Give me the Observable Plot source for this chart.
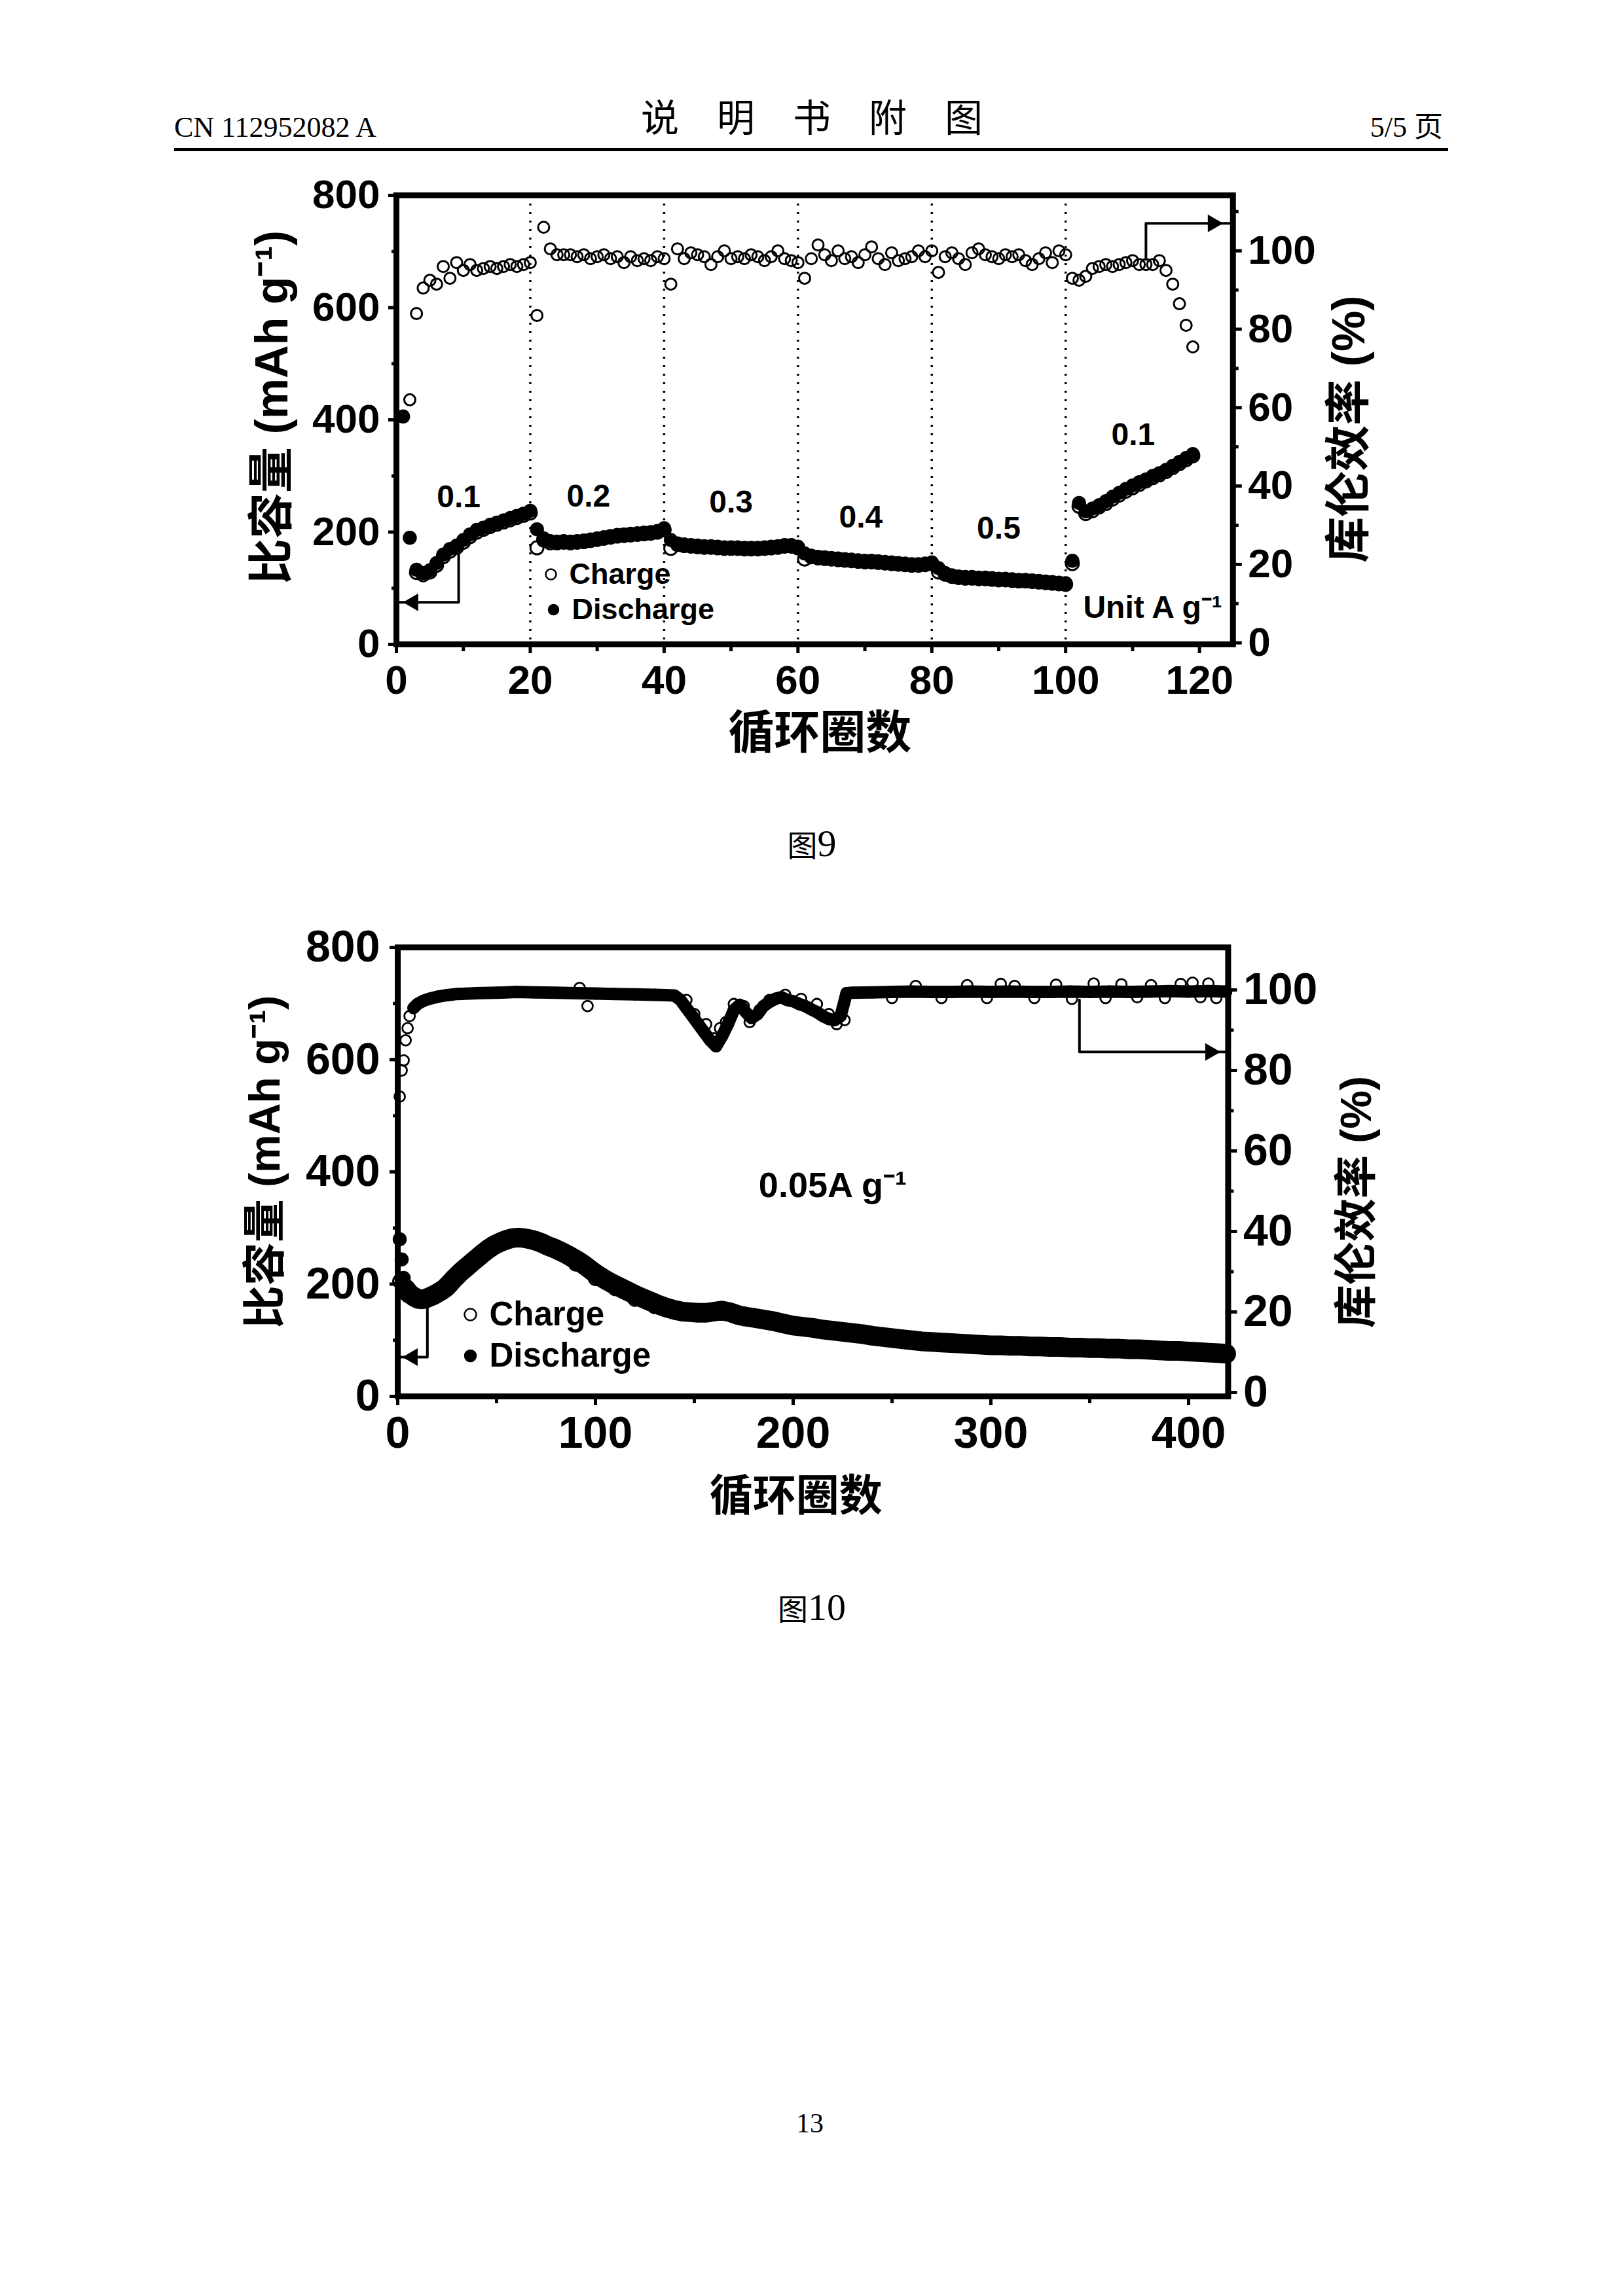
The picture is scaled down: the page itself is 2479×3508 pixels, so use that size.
<!DOCTYPE html>
<html>
<head>
<meta charset="utf-8">
<script src="https://cdn.jsdelivr.net/npm/d3@7"></script>
<script src="https://cdn.jsdelivr.net/npm/@observablehq/plot@0.6"></script>
<style>
html, body { margin: 0; padding: 0; background: #fff; }
#page { position: relative; width: 2479px; height: 3508px; background: #fff; overflow: hidden; }
#furniture { position: absolute; left: 0; top: 0; }
.chart { position: absolute; }
</style>
</head>
<body>
<div id="page">
<svg id="furniture" width="2479" height="3508" xmlns="http://www.w3.org/2000/svg">
  <text x="266" y="209" font-family="'Liberation Serif', serif" font-size="44">CN 112952082 A</text>
  <text x="979" y="201" font-family="'Noto Sans CJK SC', sans-serif" font-size="58" letter-spacing="58">说明书附图</text>
  <text x="2204" y="209" text-anchor="end" font-family="'Liberation Serif', 'Noto Sans CJK SC', serif" font-size="44">5/5 页</text>
  <rect x="266" y="226" width="1946" height="5" fill="#000"></rect>
  <text x="1240" y="1308" text-anchor="middle" font-family="'Noto Sans CJK SC', sans-serif" font-size="46">图<tspan font-family="'Liberation Serif', serif" font-size="58">9</tspan></text>
  <text x="1240" y="2475" text-anchor="middle" font-family="'Noto Sans CJK SC', sans-serif" font-size="46">图<tspan font-family="'Liberation Serif', serif" font-size="58">10</tspan></text>
  <text x="1237" y="3258" text-anchor="middle" font-family="'Liberation Serif', serif" font-size="42">13</text>
</svg>
<div id="chart1" class="chart" style="left:300px; top:240px; width:1900px; height:960px;"></div>
<div id="chart2" class="chart" style="left:300px; top:1350px; width:1900px; height:1000px;"></div>
</div>
<script>
// ================= DATA : 图9 (rate performance) =================
const xTicks1 = [0, 20, 40, 60, 80, 100, 120];
const xMinor1 = [10, 30, 50, 70, 90, 110];
const capTicks = [0, 200, 400, 600, 800];
const capMinor = [100, 300, 500, 700];
const ceTicks = [0, 20, 40, 60, 80, 100];
const ceMinor1 = [10, 30, 50, 70, 90, 110];
const ceMinor2 = [10, 30, 50, 70, 90];
const rateBoundaries1 = [20, 40, 60, 80, 100];
const rateLabels1 = ["0.1", "0.2", "0.3", "0.4", "0.5", "0.1"];
const rateLabelCycle1 = [9.3, 28.7, 50, 69.4, 90, 110.1];
const rateLabelCap1 = [262, 263, 253, 226, 206, 373];
const unitLabel1 = ["Unit A g⁻¹"];
const unitLabelCycle1 = [113];
const unitLabelCap1 = [65];

// discharge capacity, cycles 1..119 (mAh g-1)
const discharge1 = [406,190,133,127,132,145,160,170,176,186,
  196,204,208,213,217,221,225,229,233,238,
  205,189,184,183,184,183,184,185,187,189,
  191,193,195,196,197,198,199,200,202,207,
  186,180,178,177,176,175,175,174,173,173,
  173,172,172,172,173,174,175,177,177,174,
  162,158,156,155,154,153,152,151,150,149,
  149,148,147,146,145,144,143,143,144,146,
  136,127,123,121,120,120,119,119,118,117,
  117,116,115,115,114,113,112,111,110,109,
  149,252,237,242,248,255,263,270,277,283,
  289,294,300,305,311,318,325,332,339];
// charge capacity, cycles 3..119
const charge1 = [128,124,129,141,156,166,173,182,
  192,200,205,210,214,218,222,226,230,234,
  172,186,181,181,182,181,182,183,185,187,
  189,191,193,194,195,196,197,198,200,204,
  171,178,176,175,174,173,173,172,171,171,
  171,170,170,170,171,172,173,175,175,172,
  152,156,154,153,152,151,150,149,148,147,
  147,146,145,144,143,142,141,141,142,144,
  129,125,121,119,118,118,117,117,116,115,
  115,114,113,113,112,111,110,109,108,107,
  144,246,233,238,245,251,259,266,273,279,
  285,291,297,302,308,315,322,329,336];
// coulombic efficiency, cycles 2..119 (%)
const ce1 = [62,84,90.5,92.5,91.5,96,93,97,95,
  96.5,95,95.5,96,95.5,96,96.5,96,96.5,97,
  83.5,106,100.5,99,99,99,98.5,99,98,98.5,
  99,98,98.5,97,98.5,97.5,98,97.5,98.5,98,
  91.5,100.5,98,99.5,99,98.5,96.5,98.5,100,98,
  98.5,98,99,98.5,97.5,98.5,100,98,97.5,97,
  93,98,101.5,99,97.5,100,98,98.5,97,99,
  101,98,96.5,99.5,97.5,98,98.5,100,98.5,100,
  94.5,98.5,99.5,98,96.5,99.5,100.5,99,98.5,98,
  99,98.5,99,97.5,96.5,98,99.5,97,100,99,
  93,92.5,93.5,95.5,96,96.5,96,96.5,97,97.5,
  96.5,96.5,96.5,97.5,95,91.5,86.5,81,75.5];
const capArrowCycle1 = [9.3, 9.3, 0.4];
const capArrowCap1 = [161, 75, 75];
const capArrowHead1 = [2.5];
const ceArrowCycle1 = [112, 112, 124.6];
const ceArrowCE1 = [97.8, 107, 107];
const ceArrowHead1 = [122];

// ================= DATA : 图10 (long cycling at 0.05 A g-1) =================
const xTicks2 = [0, 100, 200, 300, 400];
const xMinor2 = [50, 150, 250, 350];
const cycles2 = [1,2,3,4,6,8,10,12,14,16,18,20,22,24,26,28,30,32,34,36,38,40,43,46,49,52,55,58,61,64,67,70,73,76,79,82,85,88,91,94,97,100,104,108,112,116,120,124,128,132,136,140,144,148,152,156,160,164,168,172,176,180,185,190,195,200,205,210,215,220,225,230,235,240,245,250,255,260,265,270,275,280,285,290,295,300,305,310,315,320,325,330,335,340,345,350,355,360,365,370,375,380,385,390,395,400,405,410,415,419];
const discharge2 = [280,244,211,192,183,178,174,173,174,177,180,184,188,193,200,208,215,222,228,234,240,246,255,263,270,275,279,282,283,282,280,277,273,268,264,259,254,248,242,235,227,219,210,202,195,188,181,175,169,163,158,154,151,150,149,149,151,153,150,145,142,140,137,134,130,126,124,122,119,117,115,113,111,108,106,104,102,100,98,97,96,95,94,93,92,91,91,90,90,89,89,88,88,87,87,86,86,85,85,84,84,83,82,81,81,80,79,78,77,76];
const chargeCycles2 = [1,2,3,5,10,20,30,40,50,60,70,80,90,100,110,120,130,140,150,160,170,180,190,200,210,220,230,240,250,260,270,280,290,300,310,320,330,340,350,360,370,380,390,400,410,419];
const charge2 = [205,200,190,180,170,180,211,243,268,279,274,259,236,210,192,173,160,150,146,150,144,137,131,123,119,114,110,105,101,97,94,92,90,88,87,86,85,84,83,82,81,80,78,77,75,74];
const ceCycles2 = [1,2,3,4,5,6,8,10,13,16,20,25,30,40,50,60,70,80,90,100,110,120,130,140,143,146,149,152,155,158,161,164,167,170,173,176,179,182,185,188,191,194,197,200,203,206,209,212,215,218,221,224,227,230,240,250,260,270,280,290,300,310,320,330,340,350,360,370,380,390,400,410,419];
const ce2 = [73.5,80,82.5,87.5,90.5,93.5,95.5,96.5,97.3,97.8,98.3,98.7,99.0,99.2,99.3,99.5,99.4,99.3,99.2,99.1,99.0,98.9,98.8,98.6,97.5,95.5,93.5,91.5,89.5,87.5,86,88.5,91.5,95,96.3,94.5,93,94,96,97,97.8,98.2,97.5,97.2,96.5,96,95.2,94.5,93.5,92.8,92.5,93.5,99.2,99.3,99.4,99.5,99.6,99.5,99.5,99.6,99.5,99.6,99.5,99.5,99.6,99.5,99.6,99.5,99.6,99.7,99.6,99.7,99.6];
const ceScatterCycles2 = [92,96,146,150,156,160,163,166,170,175,178,183,188,196,204,212,218,222,226,250,262,275,288,298,305,312,322,333,341,352,358,366,374,381,388,396,402,406,410,414];
const ceScatter2 = [100.5,96.0,97.5,94,91.5,88,90.5,92,96.5,96,92,95,97.5,98.8,97.8,96.5,94,91.5,92.5,98,101,98,101.2,98,101.5,101,98,101.3,97.8,101.6,98,101.4,98.2,101.2,98,101.5,101.8,98.2,101.6,98];
const rateLabel2 = ["0.05A g⁻¹"];
const rateLabelCycle2 = [220];
const rateLabelCap2 = [375];
const capArrowCycle2 = [15, 15, 0.8];
const capArrowCap2 = [163, 70, 70];
const capArrowHead2 = [7.5];
const ceArrowCycle2 = [344.8, 344.8, 419.6];
const ceArrowCE2 = [97.5, 84.6, 84.6];
const ceArrowHead2 = [411];

// ================= RENDER =================
const FONT = "'Liberation Sans', Arial, 'Noto Sans CJK SC', sans-serif";
const K = "#000";

// right-axis (%) mapped onto the capacity scale
const ce1ToCap = v => 2.7 + v * 6.985;
const cap1ToCe = y => (y - 2.7) / 6.985;
const ce2ToCap = v => 7 + v * 7.172;
const cap2ToCe = y => (y - 7) / 7.172;

function legendMarks(o) {
  return [
    Plot.dot([0], {frameAnchor: "bottom-left", dx: o.sx, dy: o.y1, r: o.r, stroke: K, strokeWidth: 2.5, fill: "none"}),
    Plot.text(["Charge"], {text: d => d, frameAnchor: "bottom-left", dx: o.tx, dy: o.y1, textAnchor: "start", lineAnchor: "middle", fontSize: o.fs, fontWeight: "bold", fill: K}),
    Plot.dot([0], {frameAnchor: "bottom-left", dx: o.sx2, dy: o.y2, r: o.r, fill: K, stroke: K}),
    Plot.text(["Discharge"], {text: d => d, frameAnchor: "bottom-left", dx: o.tx2, dy: o.y2, textAnchor: "start", lineAnchor: "middle", fontSize: o.fs, fontWeight: "bold", fill: K})
  ];
}

function titleMarks(o) {
  return [
    Plot.text(["循环圈数"], {text: d => d, frameAnchor: "bottom", dx: o.xdx, dy: o.xdy, textAnchor: "middle", lineAnchor: "middle", fontSize: o.fs, fontWeight: "bold", fill: K}),
    Plot.text(["比容量 (mAh g⁻¹)"], {text: d => d, frameAnchor: "left", dx: o.ldx, dy: o.ldy, rotate: -90, textAnchor: "middle", lineAnchor: "middle", fontSize: o.fs, fontWeight: "bold", fill: K}),
    Plot.text(["库伦效率 (%)"], {text: d => d, frameAnchor: "right", dx: o.rdx, dy: o.rdy, rotate: -90, textAnchor: "middle", lineAnchor: "middle", fontSize: o.fs, fontWeight: "bold", fill: K})
  ];
}

// ---------- chart 1 ----------
const dis1 = discharge1.map((v, i) => ({cycle: i + 1, v}));
const chg1 = charge1.map((v, i) => ({cycle: i + 3, v}));
const ceRows1 = ce1.map((v, i) => ({cycle: i + 2, v: ce1ToCap(v)}));
const rateRows1 = rateLabels1.map((t, i) => ({t, cycle: rateLabelCycle1[i], v: rateLabelCap1[i]}));
const unitRows1 = unitLabel1.map((t, i) => ({t, cycle: unitLabelCycle1[i], v: unitLabelCap1[i]}));
const capArrow1 = capArrowCycle1.map((c, i) => ({cycle: c, v: capArrowCap1[i]}));
const ceArrow1 = ceArrowCycle1.map((c, i) => ({cycle: c, v: ce1ToCap(ceArrowCE1[i])}));

const chart1 = Plot.plot({
  width: 1900, height: 960,
  marginLeft: 305, marginRight: 317.25, marginTop: 58, marginBottom: 216,
  x: {domain: [0, 125]},
  y: {domain: [0, 800]},
  style: {background: "transparent", fontFamily: FONT, overflow: "visible", color: K},
  marks: [
    Plot.ruleX(rateBoundaries1, {stroke: K, strokeWidth: 3.5, strokeDasharray: "3,10"}),
    Plot.dot(ceRows1, {x: "cycle", y: "v", r: 8.5, stroke: K, strokeWidth: 3, fill: "none"}),
    Plot.dot(chg1, {x: "cycle", y: "v", r: 10, stroke: K, strokeWidth: 3, fill: "none"}),
    Plot.dot(dis1, {x: "cycle", y: "v", r: 10, fill: K, stroke: K}),
    Plot.line(capArrow1, {x: "cycle", y: "v", stroke: K, strokeWidth: 4}),
    Plot.dot(capArrowHead1, {x: d => d, y: () => capArrowCap1[2], symbol: "triangle", r: 10, rotate: -90, fill: K}),
    Plot.line(ceArrow1, {x: "cycle", y: "v", stroke: K, strokeWidth: 4}),
    Plot.dot(ceArrowHead1, {x: d => d, y: () => ce1ToCap(ceArrowCE1[2]), symbol: "triangle", r: 10, rotate: 90, fill: K}),
    Plot.text(rateRows1, {x: "cycle", y: "v", text: "t", fontSize: 48, fontWeight: "bold", fill: K}),
    Plot.text(unitRows1, {x: "cycle", y: "v", text: "t", fontSize: 48, fontWeight: "bold", fill: K}),
    ...legendMarks({sx: 236, sx2: 240, tx: 264, tx2: 268, y1: -107, y2: -53, r: 8, fs: 45}),
    ...titleMarks({fs: 70, xdx: 8, xdy: 137, ldx: -189, ldy: -19, rdx: 178, rdy: 14}),
    Plot.frame({stroke: K, strokeWidth: 9}),
    Plot.axisX(xTicks1, {anchor: "bottom", tickSize: 14, tickPadding: 17, fontSize: 62, fontWeight: "bold", strokeWidth: 5, label: null}),
    Plot.axisX(xMinor1, {anchor: "bottom", tickSize: 11, tickFormat: () => "", strokeWidth: 5, label: null}),
    Plot.axisY(capTicks, {anchor: "left", tickSize: 12, tickPadding: 13, fontSize: 62, fontWeight: "bold", strokeWidth: 5, label: null}),
    Plot.axisY(capMinor, {anchor: "left", tickSize: 7, tickFormat: () => "", strokeWidth: 5, label: null}),
    Plot.axisY(ceTicks.map(ce1ToCap), {anchor: "right", tickSize: 13, tickPadding: 10, tickFormat: d => String(Math.round(cap1ToCe(d))), fontSize: 62, fontWeight: "bold", strokeWidth: 5, label: null}),
    Plot.axisY(ceMinor1.map(ce1ToCap), {anchor: "right", tickSize: 8, tickFormat: () => "", strokeWidth: 5, label: null})
  ]
});
document.getElementById("chart1").appendChild(chart1);

// ---------- chart 2 ----------
const dis2 = cycles2.map((c, i) => ({cycle: c, v: discharge2[i]}));
const chg2 = chargeCycles2.map((c, i) => ({cycle: c, v: charge2[i]}));
const ceRows2 = ceCycles2.map((c, i) => ({cycle: c, v: ce2ToCap(ce2[i])}));
const ceScatterRows2 = ceScatterCycles2.map((c, i) => ({cycle: c, v: ce2ToCap(ceScatter2[i])}));
const rateRows2 = rateLabel2.map((t, i) => ({t, cycle: rateLabelCycle2[i], v: rateLabelCap2[i]}));
const capArrow2 = capArrowCycle2.map((c, i) => ({cycle: c, v: capArrowCap2[i]}));
const ceArrow2 = ceArrowCycle2.map((c, i) => ({cycle: c, v: ce2ToCap(ceArrowCE2[i])}));

const chart2 = Plot.plot({
  width: 1900, height: 1000,
  marginLeft: 307, marginRight: 324.6, marginTop: 97, marginBottom: 217,
  x: {domain: [0, 420]},
  y: {domain: [0, 800]},
  style: {background: "transparent", fontFamily: FONT, overflow: "visible", color: K},
  marks: [
    Plot.line(ceRows2.filter(d => d.cycle >= 8), {x: "cycle", y: "v", stroke: K, strokeWidth: 19, strokeLinejoin: "round", strokeLinecap: "round"}),
    Plot.dot(ceRows2, {x: "cycle", y: "v", r: 8, stroke: K, strokeWidth: 2.8, fill: "none"}),
    Plot.dot(ceScatterRows2, {x: "cycle", y: "v", r: 8, stroke: K, strokeWidth: 2.8, fill: "none"}),
    Plot.line(dis2.filter(d => d.cycle >= 4), {x: "cycle", y: "v", stroke: K, strokeWidth: 30, strokeLinejoin: "round", strokeLinecap: "round"}),
    Plot.dot(chg2, {x: "cycle", y: "v", r: 10, stroke: K, strokeWidth: 3, fill: "none"}),
    Plot.dot(dis2, {x: "cycle", y: "v", r: 10, fill: K, stroke: K}),
    Plot.line(capArrow2, {x: "cycle", y: "v", stroke: K, strokeWidth: 4}),
    Plot.dot(capArrowHead2, {x: d => d, y: () => capArrowCap2[2], symbol: "triangle", r: 10, rotate: -90, fill: K}),
    Plot.line(ceArrow2, {x: "cycle", y: "v", stroke: K, strokeWidth: 4}),
    Plot.dot(ceArrowHead2, {x: d => d, y: () => ce2ToCap(ceArrowCE2[2]), symbol: "triangle", r: 10, rotate: 90, fill: K}),
    Plot.text(rateRows2, {x: "cycle", y: "v", text: "t", fontSize: 54, fontWeight: "bold", fill: K}),
    ...legendMarks({sx: 111, sx2: 111, tx: 140, tx2: 140, y1: -125, y2: -62, r: 9, fs: 51}),
    ...titleMarks({fs: 66, xdx: -26, xdy: 153, ldx: -202, ldy: -15, rdx: 197, rdy: 46}),
    Plot.frame({stroke: K, strokeWidth: 9}),
    Plot.axisX(xTicks2, {anchor: "bottom", tickSize: 14, tickPadding: 16, fontSize: 68, fontWeight: "bold", strokeWidth: 5, label: null}),
    Plot.axisX(xMinor2, {anchor: "bottom", tickSize: 11, tickFormat: () => "", strokeWidth: 5, label: null}),
    Plot.axisY(capTicks, {anchor: "left", tickSize: 12, tickPadding: 15, fontSize: 68, fontWeight: "bold", strokeWidth: 5, label: null}),
    Plot.axisY(capMinor, {anchor: "left", tickSize: 7, tickFormat: () => "", strokeWidth: 5, label: null}),
    Plot.axisY(ceTicks.map(ce2ToCap), {anchor: "right", tickSize: 13, tickPadding: 10, tickFormat: d => String(Math.round(cap2ToCe(d))), fontSize: 68, fontWeight: "bold", strokeWidth: 5, label: null}),
    Plot.axisY(ceMinor2.map(ce2ToCap), {anchor: "right", tickSize: 8, tickFormat: () => "", strokeWidth: 5, label: null})
  ]
});
document.getElementById("chart2").appendChild(chart2);
</script>
</body>
</html>
